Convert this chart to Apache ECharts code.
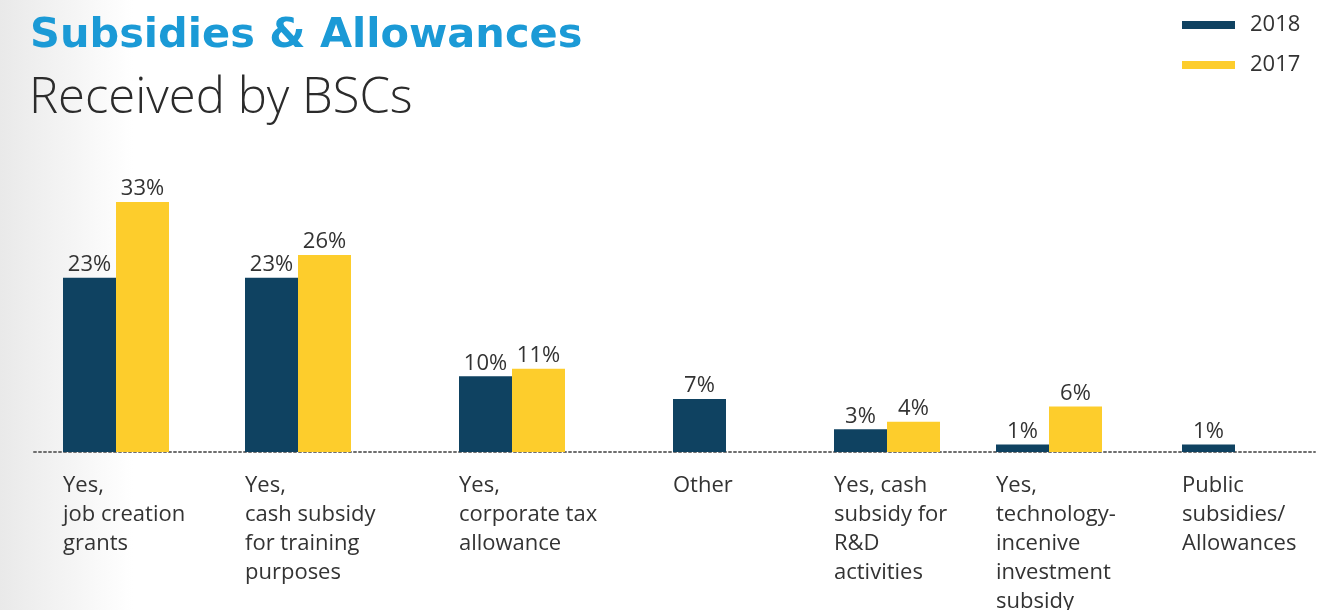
<!DOCTYPE html>
<html>
<head>
<meta charset="utf-8">
<script src="https://cdn.jsdelivr.net/npm/echarts@6/dist/echarts.min.js"></script>
<style>
  html, body { margin: 0; padding: 0; background: #fff; }
  #chart { width: 1329px; height: 610px; }
</style>
</head>
<body>
<div id="chart"></div>
<script>
// Category labels (line breaks as printed under the bars)
const categories = [
  'Yes,\njob creation\ngrants',
  'Yes,\ncash subsidy\nfor training\npurposes',
  'Yes,\ncorporate tax\nallowance',
  'Other',
  'Yes, cash\nsubsidy for\nR&D\nactivities',
  'Yes,\ntechnology-\nincenive\ninvestment\nsubsidy',
  'Public\nsubsidies/\nAllowances'
];
// Share of BSCs (%) per year; null = not asked that year
const values2018 = [23, 23, 10, 7, 3, 1, 1];
const values2017 = [33, 26, 11, null, 4, 6, null];
const seriesNames = ['2018', '2017'];

// Layout: left edge of each category block, bar width, plot band
const blockLeft = [63, 245, 459, 673, 834, 996, 1182];
const BAR_W = 53;
const PLOT_TOP = 149;
const PLOT_BOTTOM = 158;
const Y_MAX = 40;

const NAVY = '#0f4261';
const YELLOW = '#fdcd2c';
const TEXT = '#333333';
const FONT = '"Open Sans", "Noto Sans", sans-serif';

const grids = [], xAxes = [], yAxes = [], series = [];

categories.forEach((cat, i) => {
  const hasPrev = values2017[i] != null;
  const w = BAR_W * (hasPrev ? 2 : 1);
  grids.push({
    left: blockLeft[i], width: w, top: PLOT_TOP, bottom: PLOT_BOTTOM,
    containLabel: false, outerBoundsMode: 'none'
  });
  xAxes.push({
    type: 'category',
    gridIndex: i,
    data: [cat],
    axisLine: { show: false },
    axisTick: { show: false },
    axisLabel: {
      margin: 19,
      verticalAlign: 'top',
      formatter: v => v.split('\n').map(l => '{c|' + l + '}').join('\n'),
      rich: {
        c: { width: w, align: 'left', fontSize: 22, lineHeight: 29, color: TEXT, fontFamily: FONT }
      }
    }
  });
  yAxes.push({ type: 'value', gridIndex: i, min: 0, max: Y_MAX, show: false });

  const label = {
    show: true, position: 'top', distance: 2,
    formatter: '{c}%', fontSize: 22, color: TEXT, fontFamily: FONT
  };
  series.push({
    name: seriesNames[0], type: 'bar', xAxisIndex: i, yAxisIndex: i,
    barWidth: BAR_W, barGap: '0%', itemStyle: { color: NAVY },
    label, data: [values2018[i]]
  });
  if (hasPrev) {
    series.push({
      name: seriesNames[1], type: 'bar', xAxisIndex: i, yAxisIndex: i,
      barWidth: BAR_W, barGap: '0%', itemStyle: { color: YELLOW },
      label, data: [values2017[i]]
    });
  }
});

// Full-width dotted baseline
const baseIdx = categories.length;
grids.push({
  left: 34, width: 1281, top: PLOT_TOP, bottom: PLOT_BOTTOM,
  containLabel: false, outerBoundsMode: 'none'
});
xAxes.push({
  type: 'category', gridIndex: baseIdx, data: [''],
  axisLine: { show: true, lineStyle: { color: '#6e6e6e', width: 2, type: [2, 3] } },
  axisTick: { show: false }, axisLabel: { show: false }
});
yAxes.push({ type: 'value', gridIndex: baseIdx, min: 0, max: Y_MAX, show: false });

const chart = echarts.init(document.getElementById('chart'), null, { renderer: 'canvas' });
chart.setOption({
  animation: false,
  backgroundColor: '#ffffff',
  graphic: [{
    type: 'rect', z: -10, silent: true,
    shape: { x: 0, y: 0, width: 1329, height: 610 },
    style: {
      fill: new echarts.graphic.LinearGradient(0, 0, 1, 0, [
        { offset: 0, color: '#e9e9e9' },
        { offset: 0.1, color: '#ffffff' },
        { offset: 1, color: '#ffffff' }
      ])
    }
  }],
  title: [
    {
      text: 'Subsidies & Allowances', left: 30, top: 15, padding: 0,
      textStyle: { fontFamily: '"DejaVu Sans", sans-serif', fontWeight: 'bold', fontSize: 41.5, color: '#1b9ad6' }
    },
    {
      text: 'Received by BSCs', left: 29, top: 75, padding: 0,
      textStyle: { fontFamily: FONT, fontWeight: 300, fontSize: 49, color: '#2b2b2b' }
    }
  ],
  legend: {
    orient: 'vertical', left: 1182, top: 14, padding: 0,
    itemWidth: 53, itemHeight: 8, itemGap: 18, icon: 'rect',
    data: seriesNames,
    textStyle: { fontFamily: FONT, fontSize: 22, color: TEXT, padding: [0, 0, 0, 10] }
  },
  grid: grids,
  xAxis: xAxes,
  yAxis: yAxes,
  series
});
</script>
</body>
</html>
